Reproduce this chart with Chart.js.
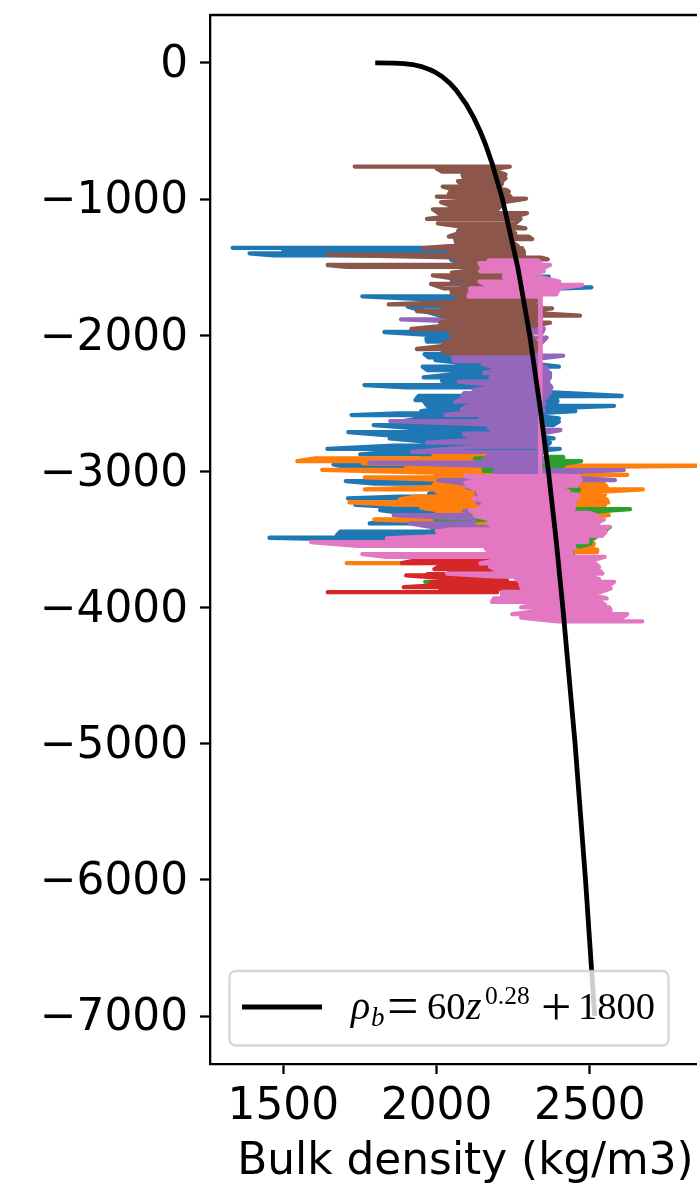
<!DOCTYPE html>
<html>
<head>
<meta charset="utf-8">
<style>
html,body{margin:0;padding:0;background:#fff;width:697px;height:1184px;overflow:hidden}
#wrap{width:697px;height:1184px;overflow:hidden;position:relative}
canvas{display:block}
</style>
<script src="https://cdn.jsdelivr.net/npm/chart.js@4/dist/chart.umd.js"></script>
</head>
<body>
<div id="wrap"><canvas id="c" width="721" height="1184"></canvas></div>
<script>
const xTickValues = [1500, 2000, 2500];
const yTickValues = [0, -1000, -2000, -3000, -4000, -5000, -6000, -7000];
const xAxisTitle = "Bulk density (kg/m3)";

// Fitted curve
const curveDepth = [0, 1, 5, 15, 25, 50, 70, 100, 150, 200, 300, 400, 500, 600, 750, 1000, 1500, 2000, 2500, 3000, 3500, 4000, 5000, 6000, 7000];
const curveDensity = [1800, 1860, 1894, 1928, 1948, 1979, 1997, 2018, 2044, 2064, 2096, 2121, 2142, 2160, 2183, 2215, 2265, 2304, 2336, 2365, 2390, 2412, 2452, 2486, 2516];

// Well logs: depth, low and high density reached around that depth
const blueDepth = [1359,1372,1385,1398,1413,1450,1570,1600,1648,1672,1714,1734,1765,1790,1856,1900,1976,2000,2023,2047,2077,2100,2138,2162,2182,2205,2231,2255,2280,2309,2334,2350,2366,2383,2410,2446,2476,2488,2518,2542,2557,2574,2586,2610,2635,2660,2685,2711,2733,2758,2789,2810,2834,2855,2875,2905,2949,2966,3010,3071,3090,3130,3162,3186,3198,3245,3262,3284,3310,3340,3382,3405,3430,3443,3468,3487,3505];
const blueLow = [1335,1500,1600,1390,1468,2050,2060,2050,2100,2050,1758,1952,2100,1906,2014,2100,1830,2000,1967,1969,2023,2100,1961,1974,1996,2090,1955,1970,2080,1958,2018,2050,1765,1903,2130,1942,1931,1960,1970,2000,1950,1876,1723,1950,1880,1795,1950,1712,1833,1847,2000,1860,1644,1860,1751,1950,1664,1702,2000,1704,1800,2030,1976,1880,1711,1735,1880,1816,1900,1950,1782,1980,2000,1686,1675,1455,1838];
const blueHigh = [2000,2020,2030,2030,2040,2150,2366,2200,2505,2200,2100,2150,2323,2100,2165,2200,2100,2200,2150,2150,2150,2200,2200,2200,2200,2300,2399,2300,2320,2370,2360,2320,2200,2200,2300,2604,2394,2394,2579,2300,2453,2320,2300,2399,2399,2380,2340,2320,2300,2382,2370,2360,2402,2300,2250,2300,2150,2000,2100,2100,2150,2150,2100,2100,2050,2150,2100,1985,2100,2100,2150,2200,2100,2100,2100,2000,2060];

const orangeDepth = [2880,2905,2924,2941,2958,2975,2988,3010,3025,3044,3060,3085,3100,3112,3132,3150,3165,3186,3205,3228,3245,3265,3290,3310,3321,3338,3353,3375,3400,3420,3448,3470,3529,3550,3575,3592,3610,3674];
const orangeLow = [1990,1604,1546,1760,2415,1900,1627,2020,2000,1766,2000,2000,1990,2030,1766,2000,2050,1925,1880,1716,1880,1950,2020,2000,2060,2100,1797,2100,2060,2000,2100,2100,2300,2300,2350,2380,2300,1707];
const orangeHigh = [2180,2150,2130,2100,2920,2100,2165,2200,2622,2010,2300,2545,2550,2555,2673,2530,2550,2545,2555,2560,2550,2530,2150,2125,2562,2500,2110,2530,2200,2541,2551,2200,2513,2510,2524,2524,2440,1950];

const greenDepth = [2893,2905,2924,2940,2958,2978,2995,3025,3118,3132,3186,3265,3277,3358,3409,3492,3515,3529,3550,3575,3610,3693,3811];
const greenLow = [2372,2125,2340,2350,2340,2154,2154,2340,2100,2405,2415,2420,2448,1996,2120,2492,2460,2448,2448,2400,2405,2480,1963];
const greenHigh = [2413,2413,2472,2430,2415,2300,2250,2453,2200,2465,2441,2442,2631,2132,2565,2513,2505,2502,2470,2440,2442,2492,2089];

const redDepth = [3585,3625,3652,3674,3693,3718,3740,3755,3764,3782,3800,3818,3835,3850,3865,3887];
const redLow = [2372,2300,1936,1887,2012,1993,2050,1970,1901,2012,2010,1980,2012,1893,2012,1645];
const redHigh = [2442,2350,2355,2219,2141,2200,2100,2034,2023,2175,2230,2323,2274,2274,2350,2198];

const purpleDepth = [1398,1440,1484,1700,1856,1883,1905,1949,1980,2018,2060,2125,2145,2150,2170,2190,2210,2232,2255,2276,2300,2320,2340,2366,2385,2402,2425,2451,2476,2488,2515,2542,2557,2584,2604,2630,2655,2675,2696,2723,2745,2770,2789,2820,2856,2880,2905,2936,2958,2980,2990,3010,3034,3064,3090,3120,3160,3230,3290,3321,3345,3382,3407,3420];
const purpleLow = [2159,2089,2127,2150,2165,1884,2150,2220,2200,2296,2250,2300,2050,2300,2055,2056,2150,2185,2190,2155,2180,2175,2072,2197,2180,2121,2090,2083,2072,2061,2110,2083,2143,2029,2143,1849,2170,2170,2180,2089,2110,2110,1969,2115,1920,2178,2155,1781,2155,2197,2190,2190,2190,2005,2090,2100,2130,2135,2090,1860,2080,1914,1980,2200];
const purpleHigh = [2285,2150,2180,2250,2240,2056,2250,2350,2345,2359,2340,2340,2340,2413,2340,2330,2340,2355,2362,2370,2370,2362,2365,2370,2375,2370,2370,2362,2345,2350,2350,2345,2350,2340,2345,2340,2350,2335,2404,2340,2345,2345,2345,2345,2350,2340,2355,2340,2340,2340,2611,2340,2340,2582,2200,2300,2200,2180,2135,2110,2120,2121,2372,2372];

const brownDepth = [761,775,798,820,847,868,884,908,930,945,965,982,996,1023,1050,1075,1104,1125,1146,1178,1200,1215,1235,1251,1275,1293,1325,1345,1361,1385,1410,1430,1442,1465,1484,1497,1521,1540,1560,1585,1606,1623,1655,1675,1697,1734,1755,1773,1790,1802,1822,1840,1856,1875,1888,1908,1930,1954,1975,1986,2005,2023,2040,2055,2075,2101,2120,2133];
const brownLow = [1733,2000,2018,2085,2089,2070,2078,2020,2060,2045,2040,2001,2110,2015,2050,1988,2007,2050,1969,2004,2075,2078,2070,2072,2040,2061,2065,2040,1955,2040,1645,2089,2089,2060,1645,1707,2121,2050,1988,2060,2099,1982,2023,2050,2050,2067,2060,1844,2020,2023,1936,2040,2012,2040,2045,2012,2030,1918,2045,2045,2060,2050,2090,2023,2040,1936,2020,2050];
const brownHigh = [2239,2200,2198,2225,2225,2214,2214,2208,2225,2236,2230,2241,2292,2219,2210,2198,2295,2260,2274,2257,2250,2290,2240,2257,2300,2312,2252,2265,2279,2285,2285,2340,2363,2280,2339,2300,2295,2280,2241,2240,2247,2165,2241,2200,2132,2334,2320,2306,2340,2377,2306,2340,2468,2310,2340,2370,2320,2295,2300,2300,2310,2306,2320,2334,2330,2334,2320,2306];

const pinkDepth = [1450,1470,1484,1505,1530,1555,1575,1606,1631,1655,1680,1700,1716,1718,3030,3034,3048,3064,3085,3105,3125,3145,3170,3198,3220,3245,3262,3285,3305,3326,3353,3380,3407,3425,3443,3473,3492,3519,3546,3565,3590,3607,3627,3650,3676,3700,3725,3750,3772,3790,3811,3835,3860,3885,3910,3933,3958,3980,3999,4020,4048,4073,4102];
const pinkLow = [2170,2140,2143,2150,2143,2220,2220,2140,2165,2110,2110,2105,2105,2338,2338,2094,2120,2148,2094,2100,2127,2135,2140,2121,2165,2150,2143,2110,2130,2127,2175,2170,2186,2050,2001,2018,1838,1591,1743,2160,2170,1758,1838,2198,2143,2175,2198,2034,2198,2260,2274,2274,2280,2214,2214,2187,2181,2312,2276,2350,2247,2276,2394];
const pinkHigh = [2330,2340,2370,2350,2350,2300,2340,2400,2475,2395,2395,2390,2340,2338,2338,2464,2466,2470,2460,2458,2400,2430,2460,2460,2450,2450,2448,2445,2500,2525,2546,2520,2562,2520,2551,2541,2492,2492,2448,2450,2440,2440,2549,2513,2517,2530,2530,2541,2502,2530,2579,2563,2568,2535,2513,2555,2535,2550,2563,2568,2622,2606,2671];

function zigzag(depth, low, high) {
  const pts = [];
  let last = null;
  depth.forEach((d, i) => {
    const lowFirst = last === null || Math.abs(last - low[i]) <= Math.abs(last - high[i]);
    const a = lowFirst ? low[i] : high[i];
    const b = lowFirst ? high[i] : low[i];
    pts.push({x: a, y: -d}, {x: b, y: -d});
    last = b;
  });
  return pts;
}
function log(color, depth, low, high, order) {
  return {
    data: zigzag(depth, low, high), borderColor: color, backgroundColor: color, order,
    borderWidth: 4.3, showLine: true, pointRadius: 0, tension: 0,
    borderCapStyle: 'round', borderJoinStyle: 'round'
  };
}
const AXIS_W = 2.3;
const frame = {
  id: 'frame',
  afterDraw(chart) {
    const {ctx, chartArea: a} = chart;
    ctx.save();
    ctx.strokeStyle = '#000';
    ctx.lineWidth = AXIS_W;
    ctx.beginPath();
    ctx.moveTo(a.left, a.top);
    ctx.lineTo(a.right, a.top);
    ctx.stroke();
    ctx.restore();
  }
};
const mathLegend = {
  id: 'mathLegend',
  afterDatasetsDraw(chart) {
    const {ctx} = chart;
    ctx.save();
    ctx.beginPath();
    ctx.roundRect(229.5, 971, 439, 74.5, 6);
    ctx.fillStyle = 'rgba(255,255,255,0.8)';
    ctx.fill();
    ctx.strokeStyle = 'rgba(204,204,204,0.8)';
    ctx.lineWidth = 2.3;
    ctx.stroke();
    ctx.strokeStyle = '#000';
    ctx.lineWidth = 4.8;
    ctx.beginPath();
    ctx.moveTo(242, 1007);
    ctx.lineTo(322, 1007);
    ctx.stroke();
    ctx.fillStyle = '#000';
    ctx.textBaseline = 'alphabetic';
    ctx.textAlign = 'left';
    const serif = '"Liberation Serif"';
    const parts = [
      ['ρ', 351, 1019, `italic 40px ${serif}`],
      ['b', 371, 1026, `italic 27px ${serif}`],
      ['=', 387, 1025, `56px ${serif}`],
      ['60', 427, 1019, `38.5px ${serif}`],
      ['z', 466, 1019, `italic 40px ${serif}`],
      ['0.28', 485, 1004, `25.5px ${serif}`],
      ['+', 541, 1025, `54px ${serif}`],
      ['1800', 578, 1019, `38.5px ${serif}`]
    ];
    parts.forEach(([t, x, y, f]) => { ctx.font = f; ctx.fillText(t, x, y); });
    ctx.restore();
  }
};
const tickFont = {family: '"DejaVu Sans"', size: 43.8};
const axisCommon = {
  grid: {drawOnChartArea: false, drawTicks: true, tickLength: 10, tickColor: '#000', tickWidth: AXIS_W},
  border: {display: true, color: '#000', width: AXIS_W}
};
new Chart(document.getElementById('c'), {
  type: 'scatter',
  data: {datasets: [
    log('#1f77b4', blueDepth, blueLow, blueHigh, 7),
    log('#ff7f0e', orangeDepth, orangeLow, orangeHigh, 6),
    log('#2ca02c', greenDepth, greenLow, greenHigh, 5),
    log('#d62728', redDepth, redLow, redHigh, 4),
    log('#9467bd', purpleDepth, purpleLow, purpleHigh, 3),
    log('#8c564b', brownDepth, brownLow, brownHigh, 2),
    log('#e377c2', pinkDepth, pinkLow, pinkHigh, 1),
    {data: curveDepth.map((d, i) => ({x: curveDensity[i], y: -d})), borderColor: '#000', backgroundColor: '#000', order: 0,
     borderWidth: 4.8, showLine: true, pointRadius: 0, tension: 0, borderJoinStyle: 'round'}
  ]},
  options: {
    responsive: false, animation: false, devicePixelRatio: 1,
    layout: {padding: {top: 15, right: 0, left: 0, bottom: 0}},
    plugins: {legend: {display: false}, tooltip: {enabled: false}},
    scales: {
      x: {
        type: 'linear', min: 1261, max: 2928, ...axisCommon,
        afterBuildTicks(s) { s.ticks = xTickValues.map(v => ({value: v})); },
        afterFit(s) { s.height = 120; s.paddingLeft = 0; s.paddingRight = 0; },
        ticks: {font: tickFont, color: '#000', padding: 7, maxRotation: 0, autoSkip: false, callback: v => String(v)},
        title: {display: true, text: xAxisTitle, color: '#000', font: tickFont, padding: {top: 0, bottom: -5}}
      },
      y: {
        type: 'linear', min: -7352, max: 352, ...axisCommon,
        afterBuildTicks(s) { s.ticks = yTickValues.map(v => ({value: v})); },
        afterFit(s) { s.width = 210; s.paddingTop = 0; s.paddingBottom = 0; },
        ticks: {font: {...tickFont, lineHeight: '6px'}, color: '#000', padding: 12, autoSkip: false,
                callback: v => ['', v < 0 ? '\u2212' + Math.abs(v) : String(v)]}
      }
    }
  },
  plugins: [frame, mathLegend]
});
</script>
</body>
</html>
